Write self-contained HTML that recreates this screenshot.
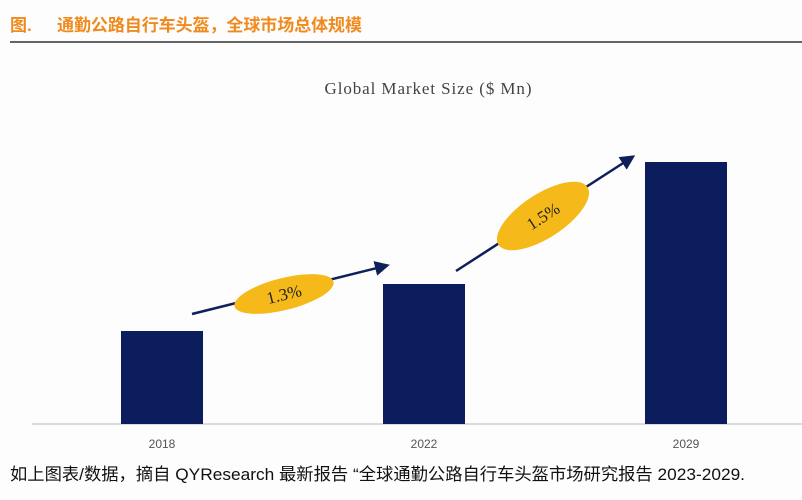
<!DOCTYPE html>
<html><head><meta charset="utf-8"><style>
body{margin:0;width:802px;height:500px;background:#fdfdfd;overflow:hidden}
svg{display:block}
</style></head><body>
<svg width="802" height="500">
<text x="10" y="31" font-family="'Liberation Sans','Noto Sans CJK SC',sans-serif" font-size="17" font-weight="bold" fill="#f08a1c">图.</text>
<text x="57" y="31" font-family="'Liberation Sans','Noto Sans CJK SC',sans-serif" font-size="17" font-weight="bold" fill="#f08a1c" textLength="305">通勤公路自行车头盔，全球市场总体规模</text>
<line x1="10" y1="42" x2="802" y2="42" stroke="#333" stroke-width="1.5"/>
<text x="428" y="94" text-anchor="middle" font-family="'Liberation Serif',serif" font-size="17" fill="#444" textLength="207">Global Market Size ($ Mn)</text>
<line x1="32" y1="424" x2="802" y2="424" stroke="#d0d0d0" stroke-width="1.5"/>
<g id="bars"></g>
<defs><marker id="ah" markerWidth="6" markerHeight="6" refX="4" refY="3" orient="auto"><path d="M0,0 L6,3 L0,6 z" fill="#0f1f5a"/></marker></defs>
<line x1="192" y1="314" x2="385" y2="266" stroke="#0f1f5a" stroke-width="2.5" marker-end="url(#ah)"/>
<ellipse cx="284" cy="294" rx="51" ry="16" transform="rotate(-14 284 294)" fill="#f5b91a"/>
<text x="284" y="300" text-anchor="middle" transform="rotate(-14 284 294)" font-family="'Liberation Serif',serif" font-size="17" fill="#222">1.3%</text>
<line x1="456" y1="271" x2="631" y2="158" stroke="#0f1f5a" stroke-width="2.5" marker-end="url(#ah)"/>
<ellipse cx="543" cy="216" rx="53" ry="22" transform="rotate(-33 543 216)" fill="#f5b91a"/>
<text x="543" y="222" text-anchor="middle" transform="rotate(-33 543 216)" font-family="'Liberation Serif',serif" font-size="17" fill="#222">1.5%</text>
<text x="10" y="480" font-family="'Liberation Sans','Noto Sans CJK SC',sans-serif" font-size="17" fill="#111" textLength="735" lengthAdjust="spacingAndGlyphs">如上图表/数据，摘自 QYResearch 最新报告 “全球通勤公路自行车头盔市场研究报告 2023-2029.</text>
</svg>
<script>
const categories=["2018","2022","2029"];
const values=[930,1400,2620];
const centers=[162,424,686];
const base=424,k=0.1,bw=82;
const g=document.getElementById('bars');
const ns="http://www.w3.org/2000/svg";
categories.forEach((c,i)=>{
  const h=values[i]*k;
  const r=document.createElementNS(ns,'rect');
  r.setAttribute('x',centers[i]-bw/2);r.setAttribute('y',base-h);
  r.setAttribute('width',bw);r.setAttribute('height',h);r.setAttribute('fill','#0b1d5c');
  
  
  g.appendChild(r);
  const t=document.createElementNS(ns,'text');
  t.setAttribute('x',centers[i]);t.setAttribute('y',448);t.setAttribute('text-anchor','middle');
  t.setAttribute('font-family',"'Liberation Sans',sans-serif");t.setAttribute('font-size','12');t.setAttribute('fill','#555');
  t.textContent=c;
  
  
  g.appendChild(t);
});
</script>
</body></html>
